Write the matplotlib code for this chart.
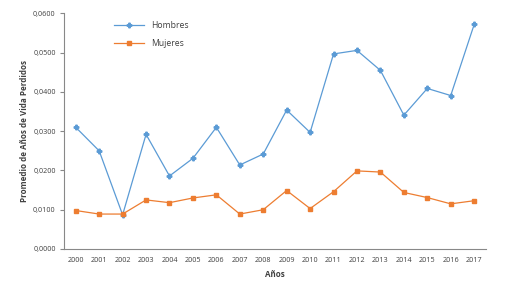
import matplotlib
matplotlib.use("Agg")
import matplotlib.pyplot as plt
from matplotlib.ticker import FuncFormatter

years = [str(y) for y in range(2000, 2018)]
hombres = [0.0310, 0.0250, 0.0087, 0.0292, 0.0186, 0.0231, 0.0310, 0.0214, 0.0242,
           0.0354, 0.0297, 0.0497, 0.0506, 0.0455, 0.0341, 0.0409, 0.0391, 0.0572]
mujeres = [0.0098, 0.0089, 0.0089, 0.0125, 0.0118, 0.0130, 0.0138, 0.0089, 0.0100,
           0.0149, 0.0103, 0.0146, 0.0199, 0.0196, 0.0144, 0.0131, 0.0115, 0.0123]

plt.rcParams['font.family'] = ['Open Sans', 'DejaVu Sans']
fig = plt.figure(figsize=(5.18, 2.92), dpi=100)
ax = fig.add_axes([0.1236, 0.1473, 0.8144, 0.8065])
x = list(range(len(years)))
ax.plot(x, hombres, color='#5B9BD5', marker='P', markersize=3.3, lw=0.9, label='Hombres')
ax.plot(x, mujeres, color='#ED7D31', marker='s', markersize=2.8, lw=0.9, label='Mujeres')
ax.set_xlim(-0.5, len(years) - 0.5)
ax.set_ylim(0, 0.06)
ax.set_yticks([0, 0.01, 0.02, 0.03, 0.04, 0.05, 0.06])
ax.yaxis.set_major_formatter(FuncFormatter(lambda v, p: f"{v:.4f}".replace('.', ',')))
ax.set_xticks(x)
ax.set_xticklabels(years)
ax.tick_params(axis='both', labelsize=5.2, colors='#404040', length=0, pad=6)
ax.tick_params(axis='y', length=3, direction='out', color='#888888', pad=3)
for s in ['top', 'right']:
    ax.spines[s].set_visible(False)
for s in ['left', 'bottom']:
    ax.spines[s].set_color('#888888')
    ax.spines[s].set_linewidth(0.8)
ax.set_ylabel('Promedio de Años de Vida Perdidos', fontsize=5.8, fontweight='bold', color='#404040', labelpad=3)
ax.set_xlabel('Años', fontsize=5.8, fontweight='bold', color='#404040', labelpad=4)
ax.legend(loc='upper left', bbox_to_anchor=(0.1, 1.0), frameon=False, fontsize=6.2,
          handlelength=3.5, labelspacing=1.0, labelcolor='#404040')
fig.savefig('out.png', dpi=100)
